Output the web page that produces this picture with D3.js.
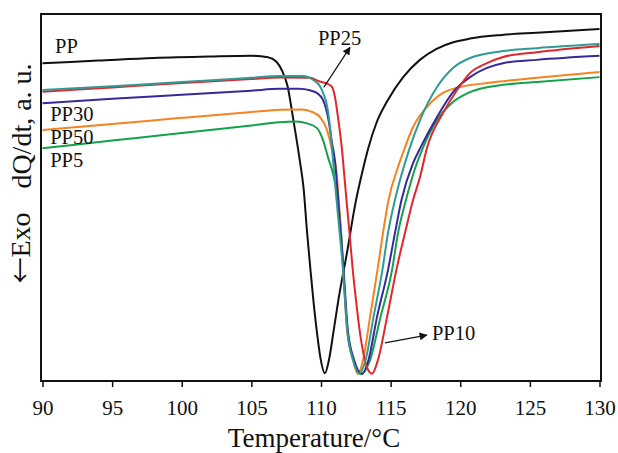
<!DOCTYPE html>
<html lang="en">
<head>
  <meta charset="UTF-8">
  <title>DSC</title>
  <style>
    body { margin: 0; background: #fff; }
  </style>
</head>
<body>
  <div id="svg"></div>
</body>
<script src="https://cdn.jsdelivr.net/npm/d3@7/dist/d3.min.js"></script>
<script type="text/javascript">
  // temperature ticks
  const xTicks = [90, 95, 100, 105, 110, 115, 120, 125, 130]

  // curves: [temperature, dQ/dt (a.u.)]
  const ppData = [[90, 86.6], [94, 87.3], [98, 88.0], [102, 88.4], [105, 88.6], [106.2, 88.2], [106.8, 87.0],
    [107.2, 84.6], [107.6, 80.3], [108.0, 71.5], [108.5, 59.5], [108.75, 52.5], [109.0, 40.5], [109.25, 30.0],
    [109.45, 22.1], [109.7, 13.5], [109.95, 6.5], [110.28, 2.1], [110.6, 6.3], [110.9, 13.5], [111.25, 22.1],
    [111.9, 35.7], [112.45, 48.0], [113.0, 57.5], [113.4, 63.5], [114.0, 70.5], [114.75, 76.2], [115.9, 82.8],
    [117.1, 87.5], [118.3, 90.5], [119.5, 92.3], [120.7, 93.3], [123.0, 94.3], [125.5, 94.9], [130, 95.9]]

  const pp5Data = [[90, 63.4], [95, 65.5], [100, 67.6], [105, 69.6], [107.0, 70.5], [108.2, 70.7], [109.0, 70.2],
    [109.71, 68.9], [110.14, 65.7], [110.5, 61.0], [110.86, 56.5], [111.22, 49.3], [111.45, 40.3], [111.6, 30.5],
    [111.9, 14.0], [112.33, 5.7], [112.87, 1.9], [113.52, 5.7], [114.27, 17.4], [115.1, 30.2], [115.53, 40.3],
    [116.1, 49.3], [116.89, 59.4], [117.25, 62.9], [118.33, 71.1], [119.48, 76.0], [120.7, 78.7], [123.07, 80.7],
    [125.51, 81.5], [130, 82.8]]

  const pp10Data = [[90, 78.8], [95, 80.0], [100, 81.2], [105, 82.3], [107.05, 82.7], [109.2, 82.6], [109.9, 81.6],
    [110.4, 81.1], [110.8, 80.1], [111.0, 77.4], [111.22, 71.9], [111.51, 62.9], [111.72, 54.0], [111.83, 49.3],
    [112.05, 40.3], [112.26, 31.1], [112.51, 22.1], [112.8, 13.1], [113.3, 3.8], [113.66, 2.0], [114.09, 5.7],
    [114.74, 17.4], [115.46, 31.1], [116.03, 40.3], [116.61, 49.3], [117.11, 55.6], [117.61, 63.5], [118.76, 73.0],
    [119.77, 79.3], [120.7, 83.9], [121.92, 86.6], [123.07, 88.3], [125.51, 89.6], [130, 91.3]]

  const pp25Data = [[90, 79.3], [95, 80.3], [100, 81.5], [105, 82.6], [107, 83.1], [108.7, 83.1], [109.45, 82.0],
    [109.95, 80.2], [110.15, 78.5], [110.45, 74.7], [110.65, 69.2], [110.8, 62.9], [111.1, 50.0], [111.35, 40.0],
    [111.58, 30.5], [111.88, 14.0], [112.3, 5.7], [112.75, 2.0], [113.2, 5.7], [113.77, 17.4], [114.42, 30.5],
    [114.81, 40.3], [115.31, 49.3], [116.32, 62.9], [117.11, 71.1], [118.33, 80.1], [119.48, 85.3], [120.7, 88.0],
    [123.07, 89.9], [125.51, 90.7], [130, 91.8]]

  const pp30Data = [[90, 75.7], [95, 76.9], [100, 78.0], [105, 79.1], [107.05, 79.6], [108.4, 79.6], [109.2, 79.2],
    [109.7, 78.5], [110.14, 76.6], [110.5, 71.9], [110.79, 64.9], [111.0, 60.0], [111.2, 51.0], [111.4, 41.0],
    [111.62, 30.5], [111.92, 14.0], [112.38, 5.7], [112.95, 1.9], [113.41, 5.7], [114.02, 17.4], [114.81, 30.2],
    [115.31, 40.3], [115.78, 49.3], [116.61, 59.4], [117.05, 62.9], [118.33, 71.9], [119.48, 78.7], [120.7, 82.8],
    [121.92, 85.3], [123.07, 86.6], [125.51, 87.5], [130, 88.6]]

  const pp50Data = [[90, 68.4], [95, 70.0], [100, 71.7], [105, 73.3], [107.05, 73.9], [108.6, 74.0], [109.3, 73.4],
    [109.93, 71.9], [110.43, 68.4], [110.8, 62.9], [111.1, 57.5], [111.36, 44.7], [111.58, 31.1], [111.87, 14.0],
    [112.3, 5.7], [112.65, 1.9], [113.02, 5.7], [113.52, 17.4], [114.09, 31.1], [114.45, 40.3], [114.85, 49.3],
    [115.53, 58.3], [115.96, 62.9], [116.61, 69.2], [117.61, 74.7], [118.76, 78.5], [119.99, 80.1], [121.92, 81.2],
    [125.51, 82.6], [130, 84.2]]

  // drawing order
  const seriesNames = ["PP", "PP5", "PP50", "PP30", "PP10", "PP25"]
  const seriesData = [ppData, pp5Data, pp50Data, pp30Data, pp10Data, pp25Data]
  const seriesColors = ["#111111", "#13a14b", "#f7821f", "#36299b", "#e3262a", "#2e9b95"]

  const serif = "'Liberation Serif', 'Times New Roman', serif"

  // canvas
  const width = 618
  const height = 453
  const svg = d3.select("#svg").append("svg").attr("width", width).attr("height", height)
    .attr("font-family", serif)

  const plot = {left: 41, top: 14, right: 601, bottom: 381}

  const x = d3.scaleLinear().domain([90, 130]).range([42.5, 599.5])
  const y = d3.scaleLinear().domain([0, 100]).range([plot.bottom, plot.top])

  // arrow head
  svg.append("defs").append("marker")
    .attr("id", "arrow")
    .attr("viewBox", "0 0 10 10")
    .attr("refX", 9).attr("refY", 5)
    .attr("markerWidth", 11).attr("markerHeight", 8)
    .attr("markerUnits", "userSpaceOnUse")
    .attr("orient", "auto")
    .append("path").attr("d", "M0,0 L10,5 L0,10 Z").attr("fill", "#111")

  // curves
  const line = d3.line().x(d => x(d[0])).y(d => y(d[1])).curve(d3.curveMonotoneX)

  svg.selectAll("path.curve").data(seriesData).enter().append("path")
    .attr("class", "curve")
    .attr("fill", "none")
    .attr("stroke", (d, i) => seriesColors[i])
    .attr("stroke-width", 2)
    .attr("d", line)

  // frame
  svg.append("rect")
    .attr("x", plot.left).attr("y", plot.top)
    .attr("width", plot.right - plot.left).attr("height", plot.bottom - plot.top)
    .attr("fill", "none").attr("stroke", "#111").attr("stroke-width", 2)

  // x axis
  const xAxis = svg.append("g")
    .attr("transform", `translate(0,${plot.bottom})`)
    .call(d3.axisBottom(x).tickValues(xTicks).tickSize(6).tickPadding(13).tickFormat(d3.format("d")))
    .attr("font-family", serif)
    .attr("font-size", 21)
  xAxis.select(".domain").remove()
  xAxis.selectAll(".tick line").attr("stroke", "#111").attr("stroke-width", 1.5)
  xAxis.selectAll(".tick text").attr("fill", "#111")

  svg.append("text")
    .attr("x", 314).attr("y", 447)
    .attr("text-anchor", "middle").attr("font-size", 27).attr("fill", "#111")
    .text("Temperature/°C")

  // y label
  svg.append("text")
    .attr("transform", "translate(31,126) rotate(-90)")
    .attr("text-anchor", "middle").attr("font-size", 28).attr("fill", "#111")
    .text("dQ/dt, a. u.")
  const exo = svg.append("text")
    .attr("transform", "translate(30,248) rotate(-90)")
    .attr("text-anchor", "middle").attr("font-size", 28).attr("fill", "#111")
  exo.append("tspan").attr("font-family", "'Noto Sans CJK JP', 'DejaVu Serif', serif").attr("font-size", 26).text("←")
  exo.append("tspan").text("Exo")

  // labels
  const labels = [
    {t: "PP", at: [90.9, 89.4]},
    {t: "PP30", at: [90.55, 70.8]},
    {t: "PP50", at: [90.55, 64.7]},
    {t: "PP5", at: [90.55, 58.3]},
    {t: "PP25", at: [109.78, 91.6]},
    {t: "PP10", at: [117.97, 11.2]}
  ]
  svg.selectAll("text.lbl").data(labels).enter().append("text")
    .attr("class", "lbl")
    .attr("x", d => x(d.at[0])).attr("y", d => y(d.at[1]))
    .attr("font-size", 20.5).attr("fill", "#111")
    .text(d => d.t)

  // pointer arrows
  const arrows = [
    {from: [110.2, 80.0], to: [112.08, 90.9]},
    {from: [114.6, 10.4], to: [117.6, 12.5]}
  ]
  svg.selectAll("line.ptr").data(arrows).enter().append("line")
    .attr("class", "ptr")
    .attr("x1", d => x(d.from[0])).attr("y1", d => y(d.from[1]))
    .attr("x2", d => x(d.to[0])).attr("y2", d => y(d.to[1]))
    .attr("stroke", "#111").attr("stroke-width", 1.2)
    .attr("marker-end", "url(#arrow)")
</script>
</html>
